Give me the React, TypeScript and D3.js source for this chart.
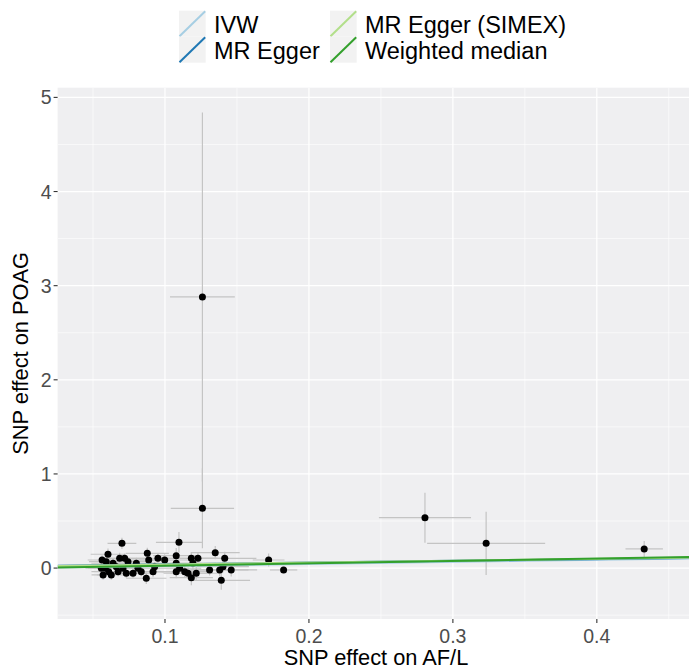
import React from "react";
import * as d3 from "d3";

// SNP-level data: exposure effect (bx), outcome effect (by), standard errors
const bx = [0.126, 0.126, 0.2806, 0.3231, 0.4329, 0.172, 0.1824,
  0.0701, 0.1097, 0.0604, 0.0563, 0.0585, 0.057, 0.0627, 0.0639, 0.0685, 0.072, 0.0743, 0.0708,
  0.0778, 0.0801, 0.0835, 0.087, 0.0877, 0.0887, 0.0917, 0.0951, 0.0998, 0.0928, 0.1078, 0.1078,
  0.1078, 0.1102, 0.1137, 0.116, 0.1183, 0.1194, 0.1229, 0.1183, 0.1217, 0.131, 0.1349, 0.138,
  0.1415, 0.1391, 0.1403, 0.146, 0.0592, 0.0558, 0.0609, 0.0662, 0.0674, 0.0731, 0.0812];
const by = [2.88, 0.635, 0.535, 0.263, 0.203, 0.086, -0.02,
  0.263, 0.274, 0.147, 0.086, -0.002, -0.073, -0.073, 0.051, 0.104, 0.104, 0.068, -0.002,
  -0.055, 0.051, -0.038, -0.108, 0.157, 0.086, -0.038, 0.104, 0.086, 0.015, 0.132, 0.051,
  -0.038, -0.002, -0.038, -0.055, 0.104, 0.051, 0.104, -0.102, -0.055, -0.02, 0.164, -0.02,
  0.104, -0.13, 0.015, -0.02, 0.068, -0.002, -0.038, 0.015, -0.038, -0.055, -0.002];
const sx = [0.0225, 0.022, 0.032, 0.041, 0.013, 0.011, 0.0095,
  0.01, 0.016, 0.012, 0.01, 0.012, 0.008, 0.01, 0.015, 0.012, 0.014, 0.016, 0.012,
  0.012, 0.015, 0.016, 0.014, 0.015, 0.013, 0.014, 0.015, 0.018, 0.016, 0.016, 0.018,
  0.017, 0.015, 0.016, 0.017, 0.018, 0.016, 0.017, 0.015, 0.018, 0.016, 0.017, 0.02,
  0.022, 0.02, 0.018, 0.018, 0.012, 0.011, 0.012, 0.013, 0.012, 0.014, 0.015];
const sy = [1.96, 0.425, 0.266, 0.336, 0.085, 0.07, 0.03,
  0.06, 0.11, 0.06, 0.05, 0.04, 0.05, 0.05, 0.05, 0.06, 0.05, 0.05, 0.04,
  0.05, 0.05, 0.05, 0.06, 0.06, 0.07, 0.06, 0.05, 0.06, 0.05, 0.08, 0.06,
  0.07, 0.05, 0.06, 0.06, 0.06, 0.07, 0.06, 0.08, 0.07, 0.06, 0.07, 0.07,
  0.07, 0.1, 0.06, 0.07, 0.05, 0.04, 0.05, 0.05, 0.05, 0.05, 0.05];

// MR method fits
const methods = ["IVW", "MR Egger", "MR Egger (SIMEX)", "Weighted median"];
const intercepts = [0, 0.02, 0.018, 0];
const slopes = [0.22, 0.19, 0.2, 0.255];
const colors = ["#A6CEE3", "#1F78B4", "#B2DF8A", "#33A02C"];

const xTicks = [0.1, 0.2, 0.3, 0.4];
const yTicks = [0, 1, 2, 3, 4, 5];

const W = 689, H = 672;
const pl = 57.6, pr = 694, pt = 87.7, pb = 619;
const FONT = "'Liberation Sans', Arial, Helvetica, sans-serif";

export default function App() {
  const x = d3.scaleLinear().domain([0.0254, 0.4675]).range([pl, pr]);
  const y = d3.scaleLinear().domain([-0.541, 5.103]).range([pb, pt]);
  const xMinor = [0.05, 0.15, 0.25, 0.35, 0.45];
  const yMinor = [-0.5, 0.5, 1.5, 2.5, 3.5, 4.5];
  const [x0, x1] = x.domain();
  const idx = d3.range(bx.length);

  return (
    <svg width={W} height={H} style={{ position: "absolute", left: 0, top: 0, background: "#fff" }} fontFamily={FONT}>
      <defs>
        <clipPath id="panel"><rect x={pl} y={pt} width={pr - pl} height={pb - pt} /></clipPath>
      </defs>
      <rect x={pl} y={pt} width={pr - pl} height={pb - pt} fill="#EFEFF1" />
      <g clipPath="url(#panel)">
        {xMinor.map(v => <line key={"xm" + v} x1={x(v)} x2={x(v)} y1={pt} y2={pb} stroke="#fff" strokeWidth={0.6} />)}
        {yMinor.map(v => <line key={"ym" + v} y1={y(v)} y2={y(v)} x1={pl} x2={pr} stroke="#fff" strokeWidth={0.6} />)}
        {xTicks.map(v => <line key={"xg" + v} x1={x(v)} x2={x(v)} y1={pt} y2={pb} stroke="#fff" strokeWidth={1.2} />)}
        {yTicks.map(v => <line key={"yg" + v} y1={y(v)} y2={y(v)} x1={pl} x2={pr} stroke="#fff" strokeWidth={1.2} />)}
        {idx.map(i => (
          <g key={"e" + i} stroke="#C4C4C4" strokeWidth={1.2}>
            <line x1={x(bx[i])} x2={x(bx[i])} y1={y(by[i] - sy[i])} y2={y(by[i] + sy[i])} />
            <line x1={x(bx[i] - sx[i])} x2={x(bx[i] + sx[i])} y1={y(by[i])} y2={y(by[i])} />
          </g>
        ))}
        {idx.map(i => <circle key={"p" + i} cx={x(bx[i])} cy={y(by[i])} r={3.5} fill="#000" />)}
        {methods.map((m, k) => (
          <line key={m} x1={x(x0)} x2={x(x1)} y1={y(intercepts[k] + slopes[k] * x0)} y2={y(intercepts[k] + slopes[k] * x1)}
            stroke={colors[k]} strokeWidth={2} />
        ))}
      </g>
      {xTicks.map(v => (
        <g key={"xt" + v}>
          <line x1={x(v)} x2={x(v)} y1={pb} y2={pb + 4} stroke="#333" strokeWidth={1.1} />
          <text x={x(v)} y={643} textAnchor="middle" fontSize={19.5} fill="#4D4D4D">{d3.format(".1f")(v)}</text>
        </g>
      ))}
      {yTicks.map(v => (
        <g key={"yt" + v}>
          <line x1={pl - 4} x2={pl} y1={y(v)} y2={y(v)} stroke="#333" strokeWidth={1.1} />
          <text x={pl - 6} y={y(v)} dy="0.36em" textAnchor="end" fontSize={19.5} fill="#4D4D4D">{v}</text>
        </g>
      ))}
      <text x={376} y={665} textAnchor="middle" fontSize={21.8} fill="#000">SNP effect on AF/L</text>
      <text transform={`translate(28,${(pt + pb) / 2}) rotate(-90)`} textAnchor="middle" fontSize={21.8} fill="#000">SNP effect on POAG</text>
      {methods.map((m, k) => {
        const col = Math.floor(k / 2), row = k % 2;
        const kx = col === 0 ? 179 : 330;
        const ky = 10.7 + row * 26;
        return (
          <g key={"lg" + m}>
            <rect x={kx} y={ky} width={26.7} height={26} fill="#F2F2F2" />
            <line x1={kx + 0.5} y1={ky + 25.5} x2={kx + 26.2} y2={ky + 0.5} stroke={colors[k]} strokeWidth={2} />
            <text x={kx + 35} y={ky + 22.5} fontSize={23.5} fill="#000">{m}</text>
          </g>
        );
      })}
    </svg>
  );
}
